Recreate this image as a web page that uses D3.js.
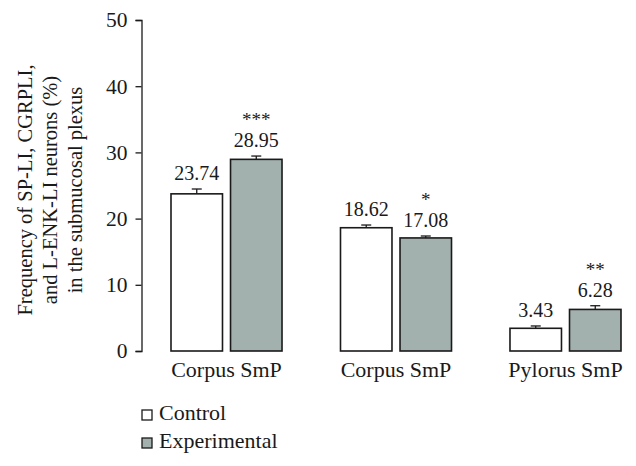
<!DOCTYPE html>
<html>
<head>
<meta charset="utf-8">
<script src="https://cdn.jsdelivr.net/npm/d3@7"></script>
<style>
    body { margin: 0; background: #fff; }
    svg text { font-family: "Liberation Serif", "DejaVu Serif", serif; fill: #1a1a1a; }
</style>
</head>
<body>
<div id="chart"></div>
<script>
'use strict';

// chart data
const categories = ['Corpus SmP', 'Corpus SmP', 'Pylorus SmP'];
const seriesNames = ['Control', 'Experimental'];
const controlValues = [23.74, 18.62, 3.43];
const experimentalValues = [28.95, 17.08, 6.28];
const controlErrors = [0.73, 0.41, 0.35];
const experimentalErrors = [0.5, 0.29, 0.56];
const experimentalStars = ['***', '*', '**'];
const yTicks = [0, 10, 20, 30, 40, 50];

const colors = { Control: '#ffffff', Experimental: '#a3b1ae' };

// build rows for drawing
const rows = categories.map((c, i) => ({
    key: i,
    label: c,
    bars: [
        { series: 'Control', value: controlValues[i], err: controlErrors[i], star: '' },
        { series: 'Experimental', value: experimentalValues[i], err: experimentalErrors[i], star: experimentalStars[i] }
    ]
}));

const width = 636, height = 466;

const svg = d3.select('#chart').append('svg')
    .attr('width', width)
    .attr('height', height);

// scales
const y = d3.scaleLinear().domain([0, 50]).range([351, 20]);
const x0 = d3.scaleBand().domain(rows.map(d => d.key)).range([171, 621]).paddingInner(0.345).paddingOuter(0);
const x1 = d3.scaleBand().domain(seriesNames).range([0, x0.bandwidth()]).paddingInner(0.135);

// y axis
const yAxis = svg.append('g')
    .attr('transform', 'translate(141.5,0)')
    .call(d3.axisLeft(y).tickValues(yTicks).tickSize(6).tickPadding(8).tickFormat(d3.format('d')));
yAxis.select('.domain').attr('stroke', '#1a1a1a').attr('stroke-width', 1.3);
yAxis.selectAll('.tick line').attr('stroke', '#1a1a1a').attr('stroke-width', 1.3);
yAxis.selectAll('.tick text')
    .attr('font-size', 21.5)
    .attr('font-family', '"Liberation Serif", serif')
    .attr('fill', '#1a1a1a');

// y axis title
const titleLines = ['Frequency of SP-LI, CGRPLI,', 'and L-ENK-LI neurons (%)', 'in the submucosal plexus'];
svg.append('g')
    .selectAll('text')
    .data(titleLines)
    .enter()
    .append('text')
    .attr('transform', (d, i) => `translate(${32 + i * 25},190) rotate(-90)`)
    .attr('text-anchor', 'middle')
    .attr('font-size', 20.5)
    .text(d => d);

// groups
const groups = svg.append('g')
    .selectAll('g')
    .data(rows)
    .enter()
    .append('g')
    .attr('transform', d => `translate(${x0(d.key)},0)`);

// bars
groups.selectAll('rect')
    .data(d => d.bars)
    .enter()
    .append('rect')
    .attr('x', d => x1(d.series))
    .attr('y', d => y(d.value))
    .attr('width', x1.bandwidth())
    .attr('height', d => y(0) - y(d.value))
    .attr('fill', d => colors[d.series])
    .attr('stroke', '#1a1a1a')
    .attr('stroke-width', 1.6);

// error bars (upper whisker only)
const err = groups.selectAll('g.err')
    .data(d => d.bars)
    .enter()
    .append('g')
    .attr('class', 'err')
    .attr('stroke', '#1a1a1a')
    .attr('stroke-width', 1.3);
err.append('line')
    .attr('x1', d => x1(d.series) + x1.bandwidth() / 2)
    .attr('x2', d => x1(d.series) + x1.bandwidth() / 2)
    .attr('y1', d => y(d.value))
    .attr('y2', d => y(d.value + d.err));
err.append('line')
    .attr('x1', d => x1(d.series) + x1.bandwidth() / 2 - 5)
    .attr('x2', d => x1(d.series) + x1.bandwidth() / 2 + 5)
    .attr('y1', d => y(d.value + d.err))
    .attr('y2', d => y(d.value + d.err));

// value labels
groups.selectAll('text.val')
    .data(d => d.bars)
    .enter()
    .append('text')
    .attr('class', 'val')
    .attr('x', d => x1(d.series) + x1.bandwidth() / 2)
    .attr('y', d => y(d.value + d.err) - 9)
    .attr('text-anchor', 'middle')
    .attr('font-size', 20)
    .text(d => d.value.toFixed(2));

// significance stars
groups.selectAll('text.star')
    .data(d => d.bars.filter(b => b.star))
    .enter()
    .append('text')
    .attr('class', 'star')
    .attr('x', d => x1(d.series) + x1.bandwidth() / 2)
    .attr('y', d => y(d.value + d.err) - 9 - 21)
    .attr('text-anchor', 'middle')
    .attr('font-size', 19)
    .attr('fill', '#3a3a3a')
    .text(d => d.star);

// category labels
groups.append('text')
    .attr('x', x0.bandwidth() / 2)
    .attr('y', 377)
    .attr('text-anchor', 'middle')
    .attr('font-size', 22)
    .text(d => d.label);

// legend
const legend = svg.append('g')
    .selectAll('g')
    .data(seriesNames)
    .enter()
    .append('g')
    .attr('transform', (d, i) => `translate(142,${410 + i * 28})`);
legend.append('rect')
    .attr('width', 10)
    .attr('height', 10)
    .attr('fill', d => colors[d])
    .attr('stroke', '#1a1a1a')
    .attr('stroke-width', 1.3);
legend.append('text')
    .attr('x', 17)
    .attr('y', 10)
    .attr('font-size', 22)
    .text(d => d);
</script>
</body>
</html>
